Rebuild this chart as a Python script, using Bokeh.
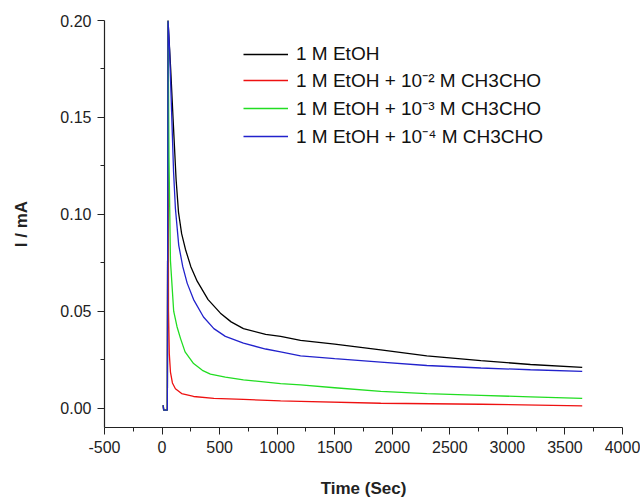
from bokeh.plotting import figure
from bokeh.models import (Range1d, FixedTicker, NumeralTickFormatter, Legend, LegendItem)
from bokeh.embed import file_html
from bokeh.resources import INLINE

# ---- data ----
t_black = [10, 14, 46, 52, 75, 96, 122, 143, 170, 203, 250, 305, 400, 507, 600, 707, 900,
           1030, 1203, 1500, 1900, 2300, 2770, 3200, 3650]
i_black = [0.0015, -0.001, -0.001, 0.20, 0.175, 0.149, 0.118, 0.101, 0.090, 0.082, 0.073,
           0.0655, 0.056, 0.049, 0.0445, 0.041, 0.038, 0.037, 0.035, 0.033, 0.030, 0.027,
           0.0245, 0.0225, 0.021]

t_blue = [10, 14, 46, 52, 65, 79, 100, 116, 145, 180, 218, 274, 360, 450, 550, 707, 900,
          1030, 1203, 1500, 1900, 2300, 2770, 3200, 3650]
i_blue = [0.0015, -0.001, -0.001, 0.20, 0.185, 0.160, 0.122, 0.103, 0.084, 0.073, 0.0645,
          0.056, 0.047, 0.041, 0.037, 0.0335, 0.0305, 0.029, 0.027, 0.0255, 0.0237, 0.022,
          0.0207, 0.0198, 0.019]

t_green = [10, 14, 46, 52, 60, 73, 101, 130, 160, 200, 274, 350, 420, 550, 707, 1030, 1203,
           1500, 1900, 2300, 2770, 3200, 3650]
i_green = [0.0015, -0.001, -0.001, 0.20, 0.13, 0.076, 0.050, 0.042, 0.036, 0.029, 0.023,
           0.0195, 0.0175, 0.016, 0.0146, 0.0126, 0.012, 0.0105, 0.0086, 0.0075, 0.0066,
           0.0058, 0.005]

t_red = [10, 14, 46, 52, 56, 63, 73, 90, 116, 170, 274, 450, 707, 1030, 1203, 1900, 2770,
         3650]
i_red = [0.0015, -0.001, -0.001, 0.20, 0.05, 0.028, 0.0186, 0.013, 0.010, 0.0075, 0.006,
         0.005, 0.0045, 0.0037, 0.0035, 0.0025, 0.002, 0.0012]

labels = ["1 M EtOH",
          "1 M EtOH + 10\u207b\u00b2 M CH3CHO",
          "1 M EtOH + 10\u207b\u00b3 M CH3CHO",
          "1 M EtOH + 10\u207b\u2074 M CH3CHO"]
x_ticks = [-500, 0, 500, 1000, 1500, 2000, 2500, 3000, 3500, 4000]
y_ticks = [0.0, 0.05, 0.10, 0.15, 0.20]

FONT = "Liberation Sans"

p = figure(width=640, height=500, output_backend="svg", toolbar_location=None,
           x_range=Range1d(-500, 4000), y_range=Range1d(-0.01, 0.20),
           min_border_left=104, min_border_right=18, min_border_top=20, min_border_bottom=63)
p.outline_line_color = None
p.xgrid.visible = False
p.ygrid.visible = False
p.background_fill_color = "white"
p.border_fill_color = "white"

r_black = p.line(t_black, i_black, line_color="#000000", line_width=1.3)
r_red = p.line(t_red, i_red, line_color="#ee1111", line_width=1.3)
r_green = p.line(t_green, i_green, line_color="#22dd22", line_width=1.3)
r_blue = p.line(t_blue, i_blue, line_color="#2222cc", line_width=1.3)

legend = Legend(items=[LegendItem(label=labels[0], renderers=[r_black]),
                       LegendItem(label=labels[1], renderers=[r_red]),
                       LegendItem(label=labels[2], renderers=[r_green]),
                       LegendItem(label=labels[3], renderers=[r_blue])],
                location=(139, 278), border_line_color=None, background_fill_alpha=0,
                padding=0, margin=0, spacing=2, glyph_width=45, glyph_height=20,
                label_height=20, label_standoff=8, label_text_font=FONT,
                label_text_font_size="19px", label_text_color="#111111")
p.add_layout(legend)

for ax in (p.xaxis[0], p.yaxis[0]):
    ax.axis_line_color = "#222222"
    ax.axis_line_width = 1.2
    ax.major_tick_line_color = "#222222"
    ax.minor_tick_line_color = "#222222"
    ax.major_tick_in = 0
    ax.major_tick_out = 7
    ax.minor_tick_in = 0
    ax.minor_tick_out = 4
    ax.major_label_text_font = FONT
    ax.major_label_text_font_size = "16px"
    ax.major_label_text_color = "#222222"
    ax.axis_label_text_font = FONT
    ax.axis_label_text_font_size = "17px"
    ax.axis_label_text_font_style = "bold"
    ax.axis_label_text_color = "#222222"
    ax.major_label_standoff = 6

p.xaxis[0].ticker = FixedTicker(ticks=x_ticks, minor_ticks=[t + 250 for t in x_ticks[:-1]])
p.yaxis[0].ticker = FixedTicker(ticks=y_ticks, minor_ticks=[v + 0.025 for v in y_ticks[:-1]])
p.xaxis[0].formatter = NumeralTickFormatter(format="0")
p.yaxis[0].formatter = NumeralTickFormatter(format="0.00")
p.xaxis[0].axis_label = "Time (Sec)"
p.yaxis[0].axis_label = "I / mA"
p.xaxis[0].axis_label_standoff = 23
p.yaxis[0].axis_label_standoff = 26

open("out.html", "w").write(file_html(p, INLINE))
